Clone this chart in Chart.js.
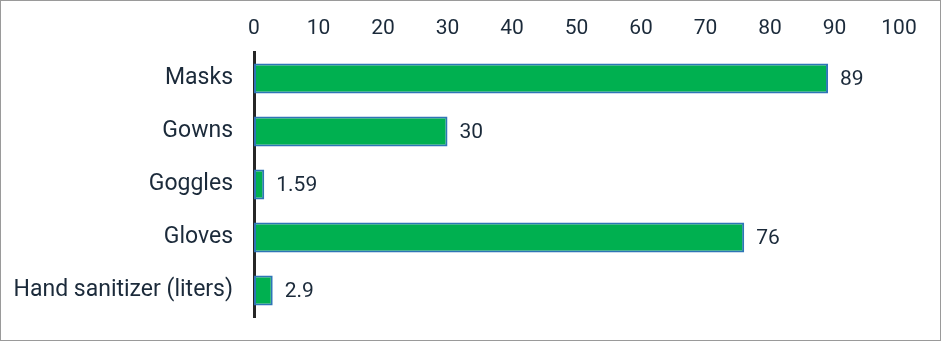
<!DOCTYPE html>
<html>
<head>
<meta charset="utf-8">
<script src="https://cdn.jsdelivr.net/npm/chart.js@4"></script>
<style>
  html, body { margin: 0; padding: 0; background: #fff; }
  #wrap { width: 939px; height: 339px; border: 1px solid #9a9a9a; position: relative; }
</style>
</head>
<body>
<div id="wrap"><canvas id="chart" width="939" height="339"></canvas></div>
<script>
const categories = ["Masks", "Gowns", "Goggles", "Gloves", "Hand sanitizer (liters)"];
const values = [89, 30, 1.59, 76, 2.9];
const valueLabels = ["89", "30", "1.59", "76", "2.9"];

const textColor = "#1b2a3a";
const fontFamily = "Roboto, 'Noto Sans', sans-serif";

// draw the value next to the end of each bar
const valueLabelPlugin = {
  id: "valueLabels",
  afterDatasetsDraw(chart) {
    const ctx = chart.ctx;
    const meta = chart.getDatasetMeta(0);
    ctx.save();
    ctx.font = "21px " + fontFamily;
    ctx.fillStyle = textColor;
    ctx.textAlign = "left";
    ctx.textBaseline = "middle";
    meta.data.forEach((bar, i) => {
      ctx.fillText(valueLabels[i], bar.x + 12, bar.y + 1);
    });
    ctx.restore();
  },
};

new Chart(document.getElementById("chart"), {
  type: "bar",
  data: {
    labels: categories,
    datasets: [
      {
        data: values,
        backgroundColor: "#00b050",
        borderColor: "#2e75b6",
        borderWidth: 2,
        borderSkipped: false,
        categoryPercentage: 1,
        barPercentage: 0.57,
      },
    ],
  },
  options: {
    indexAxis: "y",
    responsive: false,
    animation: false,
    layout: { padding: { left: 0, right: 41, top: 6, bottom: 23 } },
    plugins: {
      legend: { display: false },
      tooltip: { enabled: false },
    },
    scales: {
      x: {
        position: "top",
        min: 0,
        max: 100,
        grid: { display: false },
        border: { display: false },
        ticks: {
          stepSize: 10,
          maxRotation: 0,
          padding: 3,
          color: textColor,
          font: { family: fontFamily, size: 21 },
        },
        afterFit: (scale) => { scale.height = 45; },
      },
      y: {
        grid: { display: false },
        border: { display: true, color: "#262626", width: 3 },
        ticks: {
          padding: 13,
          color: textColor,
          font: { family: fontFamily, size: 23 },
        },
        afterFit: (scale) => {
          scale.width = 253;
          scale.paddingTop = 0;
          scale.paddingBottom = 0;
        },
      },
    },
  },
  plugins: [valueLabelPlugin],
});
</script>
</body>
</html>
